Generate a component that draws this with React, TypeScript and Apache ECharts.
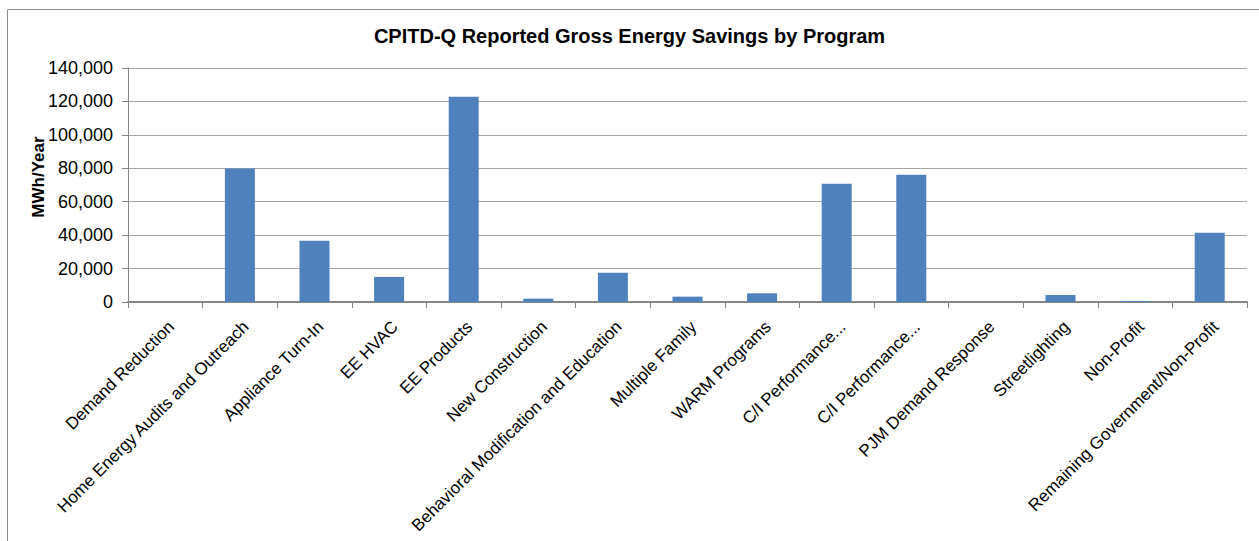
import React, { useEffect, useRef } from "react";
import * as echarts from "echarts";

const categories = [
  "Demand Reduction",
  "Home Energy Audits and Outreach",
  "Appliance Turn-In",
  "EE HVAC",
  "EE Products",
  "New Construction",
  "Behavioral Modification and Education",
  "Multiple Family",
  "WARM Programs",
  "C/I Performance...",
  "C/I Performance...",
  "PJM Demand Response",
  "Streetlighting",
  "Non-Profit",
  "Remaining Government/Non-Profit",
];
const savings = [0, 79800, 36700, 15000, 122800, 2000, 17500, 3200, 5200, 70800, 76100, 0, 4200, 600, 41400];
const yTicks = { min: 0, max: 140000, interval: 20000 };
const titleText = "CPITD-Q Reported Gross Energy Savings by Program";
const yAxisName = "MWh/Year";

export default function App() {
  const ref = useRef<HTMLDivElement>(null);
  useEffect(() => {
    if (!ref.current) return;
    const chart = echarts.init(ref.current, undefined, { renderer: "svg" });
    const font = "'Liberation Sans', Arial, sans-serif";
    chart.setOption({
      animation: false,
      backgroundColor: "#ffffff",
      title: {
        text: titleText,
        left: "center",
        top: 21,
        textStyle: { fontFamily: font, fontSize: 20, fontWeight: "bold", color: "#000" },
      },
      graphic: [
        {
          type: "rect",
          shape: { x: 7.5, y: 9.5, width: 1300, height: 600 },
          style: { fill: "none", stroke: "#8c8c8c", lineWidth: 1 },
          silent: true,
        },
        {
          type: "text",
          x: 38,
          y: 177,
          rotation: Math.PI / 2,
          style: {
            text: yAxisName,
            fontFamily: font,
            fontSize: 17,
            fontWeight: "bold",
            fill: "#000",
            align: "center",
            verticalAlign: "middle",
          },
        },
      ],
      grid: { left: 128, right: 12, top: 68, bottom: 239, containLabel: false },
      xAxis: {
        type: "category",
        data: categories,
        boundaryGap: true,
        axisLine: { show: true, lineStyle: { color: "#868686", width: 2 } },
        axisTick: { show: true, alignWithLabel: false, length: 6, lineStyle: { color: "#868686" } },
        axisLabel: {
          interval: 0,
          rotate: 45,
          align: "right",
          verticalAlign: "top",
          fontFamily: font,
          fontSize: 17,
          color: "#000",
          margin: 16,
        },
        splitLine: { show: false },
      },
      yAxis: {
        type: "value",
        min: yTicks.min,
        max: yTicks.max,
        interval: yTicks.interval,
        axisLine: { show: true, lineStyle: { color: "#868686" } },
        axisTick: { show: true, length: 6, lineStyle: { color: "#868686" } },
        axisLabel: {
          fontFamily: font,
          fontSize: 18,
          color: "#000",
          margin: 15,
          formatter: (v: number) => v.toLocaleString("en-US"),
        },
        splitLine: { show: true, lineStyle: { color: "#a6a6a6", width: 1 } },
      },
      series: [
        {
          type: "bar",
          data: savings,
          barWidth: 30,
          itemStyle: { color: "#4f81bd" },
        },
      ],
    });
    return () => chart.dispose();
  }, []);
  return (
    <div
      ref={ref}
      style={{ position: "absolute", left: 0, top: 0, width: 1259, height: 541 }}
    />
  );
}
